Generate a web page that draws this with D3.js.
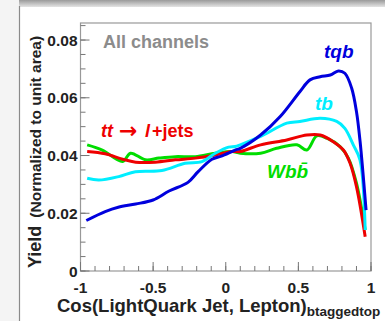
<!DOCTYPE html>
<html>
<head>
<meta charset="utf-8">
<script src="https://cdn.jsdelivr.net/npm/d3@7"></script>
<style>
  html, body { margin: 0; padding: 0; background: #ffffff; }
  svg { display: block; font-family: "Liberation Sans", Arial, sans-serif; }
</style>
</head>
<body>
<svg id="chart" width="385" height="321"></svg>
<script>
// cos(light quark jet, lepton) in the b-tagged top frame, normalized shapes
const xTqb = [-0.96, -0.83, -0.74, -0.62, -0.50, -0.39, -0.26, -0.19, -0.095, -0.03, 0.065, 0.10, 0.24, 0.375, 0.51, 0.58, 0.65, 0.72, 0.775, 0.82, 0.867, 0.90, 0.925, 0.966];
const yTqb = [0.0175, 0.0206, 0.0221, 0.0232, 0.0246, 0.0277, 0.0307, 0.0344, 0.0387, 0.0398, 0.0419, 0.0425, 0.0471, 0.0535, 0.0621, 0.0662, 0.0673, 0.0679, 0.0693, 0.0685, 0.0633, 0.0552, 0.0448, 0.0211];

const xTb = [-0.954, -0.874, -0.737, -0.622, -0.44, -0.28, -0.164, -0.072, 0.02, 0.065, 0.10, 0.24, 0.42, 0.51, 0.65, 0.764, 0.82, 0.878, 0.924, 0.96];
const yTb = [0.0321, 0.0315, 0.0327, 0.0344, 0.0348, 0.0373, 0.0379, 0.0408, 0.0429, 0.0431, 0.0437, 0.0466, 0.0512, 0.0518, 0.0529, 0.0518, 0.0494, 0.0437, 0.0385, 0.0142];

const xTt = [-0.954, -0.83, -0.71, -0.62, -0.485, -0.347, -0.21, -0.072, 0.043, 0.10, 0.24, 0.42, 0.558, 0.65, 0.74, 0.81, 0.856, 0.90, 0.96];
const yTt = [0.0414, 0.0406, 0.0387, 0.0377, 0.0377, 0.0385, 0.0391, 0.0402, 0.0414, 0.0414, 0.0437, 0.0454, 0.0471, 0.0471, 0.0448, 0.0419, 0.0373, 0.0292, 0.0119];

const xWbb = [-0.954, -0.85, -0.71, -0.656, -0.553, -0.46, -0.347, -0.21, -0.072, 0.043, 0.10, 0.24, 0.35, 0.49, 0.558, 0.627, 0.696, 0.787, 0.844, 0.90, 0.96];
const yWbb = [0.0437, 0.0419, 0.0379, 0.0408, 0.0385, 0.0391, 0.0396, 0.0396, 0.0408, 0.0414, 0.0408, 0.0408, 0.0425, 0.0437, 0.0419, 0.0468, 0.0460, 0.0431, 0.0391, 0.0304, 0.0142];

const yTicks = [0, 0.02, 0.04, 0.06, 0.08];
const yTickLabels = ["0", "0.02", "0.04", "0.06", "0.08"];
const xTicks = [-1, -0.5, 0, 0.5, 1];
const xTickLabels = ["-1", "-0.5", "0", "0.5", "1"];

const series = [
  { name: "Wbb", xs: xWbb, ys: yWbb, color: "#00dd00" },
  { name: "tt", xs: xTt, ys: yTt, color: "#ee0000" },
  { name: "tb", xs: xTb, ys: yTb, color: "#00eeff" },
  { name: "tqb", xs: xTqb, ys: yTqb, color: "#0000dd" }
];

const svg = d3.select("#chart");

// page frame: light margin, top shadow band, left border
const defs = svg.append("defs");
const grad = defs.append("linearGradient").attr("id", "topband")
  .attr("x1", 0).attr("y1", 0).attr("x2", 0).attr("y2", 1);
grad.append("stop").attr("offset", "0%").attr("stop-color", "#9a9a9a");
grad.append("stop").attr("offset", "100%").attr("stop-color", "#e4e4e4");
svg.append("rect").attr("x", 0).attr("y", 0).attr("width", 19).attr("height", 321).attr("fill", "#f4f4f4");
svg.append("rect").attr("x", 19).attr("y", 0).attr("width", 366).attr("height", 7).attr("fill", "url(#topband)");
svg.append("line").attr("x1", 19.5).attr("x2", 19.5).attr("y1", 6).attr("y2", 321)
  .attr("stroke", "#8a8a8a").attr("stroke-width", 1.2);

const L = 80.5, R = 371, T = 23, B = 271;
const x = d3.scaleLinear().domain([-1, 1]).range([L, R]);
const y = d3.scaleLinear().domain([0, 0.0859]).range([B, T]);

// plot box
svg.append("rect").attr("x", L).attr("y", T).attr("width", R - L).attr("height", B - T)
  .attr("fill", "none").attr("stroke", "#999").attr("stroke-width", 1.2);

// y ticks pointing inward
const yAxis = svg.append("g");
const yMinor = d3.range(0, 0.0859, 0.005);
yAxis.selectAll("line.minor").data(yMinor).join("line")
  .attr("x1", L).attr("x2", L + 5).attr("y1", d => y(d)).attr("y2", d => y(d))
  .attr("stroke", "#777").attr("stroke-width", 1);
yAxis.selectAll("line.major").data(yTicks).join("line")
  .attr("x1", L).attr("x2", L + 9).attr("y1", d => y(d)).attr("y2", d => y(d))
  .attr("stroke", "#777").attr("stroke-width", 1);
yAxis.selectAll("text").data(yTicks).join("text")
  .attr("x", L - 3).attr("y", d => y(d)).attr("dy", "0.36em")
  .attr("text-anchor", "end").attr("font-size", 15.5).attr("font-weight", "bold").attr("fill", "#222")
  .text((d, i) => yTickLabels[i]);

// x ticks pointing inward
const xAxis = svg.append("g");
const xMinor = d3.range(-10, 11).map(v => v / 10);
xAxis.selectAll("line.minor").data(xMinor).join("line")
  .attr("x1", d => x(d)).attr("x2", d => x(d)).attr("y1", B).attr("y2", B - 5)
  .attr("stroke", "#777").attr("stroke-width", 1);
xAxis.selectAll("line.major").data(xTicks).join("line")
  .attr("x1", d => x(d)).attr("x2", d => x(d)).attr("y1", B).attr("y2", B - 9)
  .attr("stroke", "#777").attr("stroke-width", 1);
xAxis.selectAll("text").data(xTicks).join("text")
  .attr("x", d => x(d)).attr("y", 293)
  .attr("text-anchor", "middle").attr("font-size", 15.5).attr("font-weight", "bold").attr("fill", "#222")
  .text((d, i) => xTickLabels[i]);

// curves
const line = d3.line().curve(d3.curveCatmullRom.alpha(0.5))
  .x(d => x(d[0])).y(d => y(d[1]));
svg.append("g").selectAll("path").data(series).join("path")
  .attr("d", s => line(s.xs.map((v, i) => [v, s.ys[i]])))
  .attr("fill", "none").attr("stroke", s => s.color).attr("stroke-width", 3)
  .attr("stroke-linejoin", "round");

// annotations
const bold = t => t.attr("font-weight", "bold");
bold(svg.append("text").attr("x", 103).attr("y", 48).attr("font-size", 18).attr("fill", "#8c8c8c")).text("All channels");
bold(svg.append("text").attr("x", 324).attr("y", 58).attr("font-size", 19).attr("font-style", "italic").attr("fill", "#0000dd")).text("tqb");
bold(svg.append("text").attr("x", 315).attr("y", 110).attr("font-size", 19).attr("font-style", "italic").attr("fill", "#00eeff")).text("tb");

const ttLab = bold(svg.append("text").attr("y", 137).attr("font-size", 18).attr("fill", "#ee0000"));
ttLab.append("tspan").attr("x", 101).attr("font-style", "italic").text("tt");
ttLab.append("tspan").attr("x", 119).attr("dy", 1).attr("font-family", "DejaVu Sans").attr("font-size", 22).text("\u2192");
ttLab.append("tspan").attr("x", 145).attr("dy", -1).attr("font-style", "italic").text("l");
ttLab.append("tspan").attr("x", 152).text("+jets");

const wLab = bold(svg.append("text").attr("x", 267).attr("y", 178).attr("font-size", 19).attr("font-style", "italic").attr("fill", "#00dd00"));
wLab.append("tspan").text("Wb");
wLab.append("tspan").text("b\u0304");

// axis titles
const yTitle = bold(svg.append("text").attr("transform", "translate(41,268) rotate(-90)").attr("fill", "#222"));
yTitle.append("tspan").attr("font-size", 18).text("Yield");
yTitle.append("tspan").attr("font-size", 15.5).attr("dx", 8).text("(Normalized to unit area)");

const xTitle = bold(svg.append("text").attr("x", 57).attr("y", 312).attr("fill", "#222"));
xTitle.append("tspan").attr("font-size", 18.5).text("Cos(LightQuark Jet, Lepton)");
xTitle.append("tspan").attr("font-size", 13.5).attr("dy", 4).text("btaggedtop");
</script>
</body>
</html>
